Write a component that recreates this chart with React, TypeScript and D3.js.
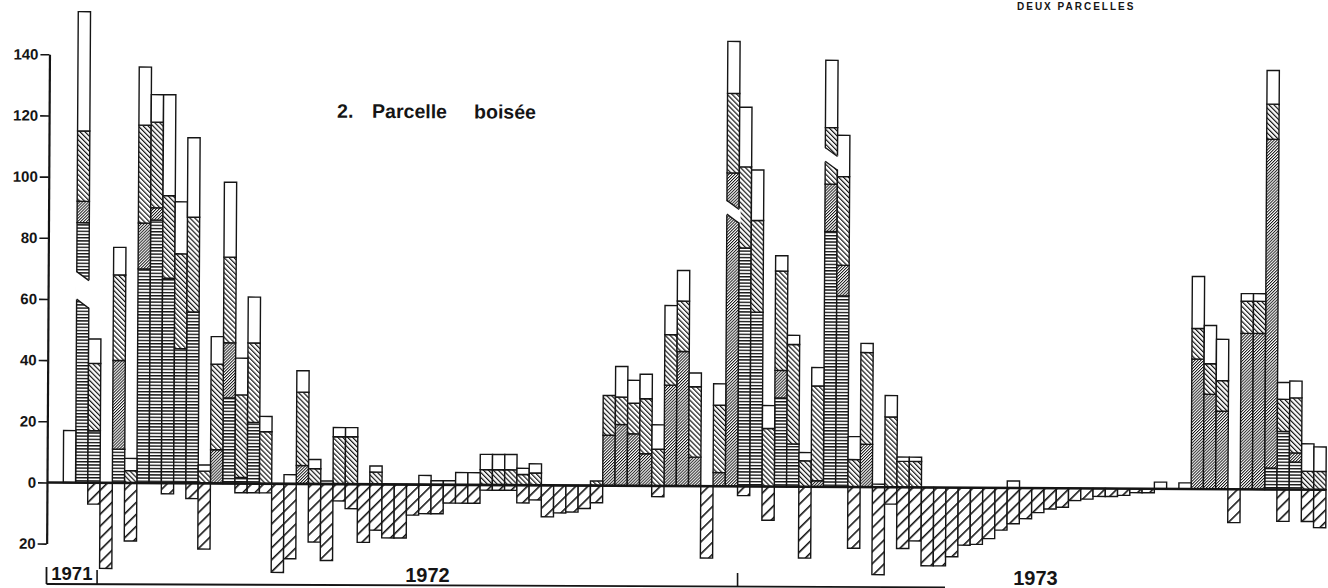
import { useRef, useEffect } from 'react';
import * as d3 from 'd3';

const WIDTH = 1328;
const HEIGHT = 588;
const INK = '#151515';
const FONT = "'Liberation Sans', Arial, Helvetica, sans-serif";
const SKEW = 0.33; // the scan is slightly rotated

// weekly amounts (mm), stacked bottom -> top: horizontal hatch, fine "/" hatch, "\" hatch, blank
const horizSeries = [
  0, 85, 17, 0, 11, 0, 70, 86, 67, 44,
  56, 0, 0, 28, 2, 20, 0, 0, 0, 0,
  0, 0, 0, 0, 0, 0, 0, 0, 0, 0,
  0, 0, 0, 0, 0, 0, 0, 0, 0, 0,
  0, 0, 0, 0, 0, 0, 0, 0, 0, 0,
  0, 0, 0, 0, 0, 78, 57, 0, 29, 14,
  0, 0, 83.5, 62.5, 0, 0, 0, 0, 0, 0,
  0, 0, 0, 0, 0, 0, 0, 0, 0, 0,
  0, 0, 0, 0, 0, 0, 0, 0, 0, 0,
  0, 0, 0, 0, 0, 0, 0, 0, 7, 19,
  9, 0, 0,
];

const fineSeries = [
  0, 7, 0, 0, 29, 0, 15, 4, 0, 0,
  0, 0, 11, 18, 0, 0, 0, 0, 0, 6,
  0, 0, 0, 0, 0, 0, 0, 0, 0, 0,
  0, 0, 0, 0, 0, 0, 0, 0, 0, 0,
  0, 0, 0, 0, 16.5, 20, 17, 10.5, 0, 33,
  44, 9.5, 0, 4.5, 102.5, 0, 0, 0, 9, 0,
  0, 2, 15.5, 10, 0, 14, 0, 0, 0, 0,
  0, 0, 0, 0, 0, 0, 0, 0, 0, 0,
  0, 0, 0, 0, 0, 0, 0, 0, 0, 0,
  0, 0, 42.5, 31, 25.5, 0, 51, 51, 107.5, 0,
  3, 0, 0,
];

const backSeries = [
  0, 23, 22, 0, 28, 4, 32, 28, 27, 31,
  31, 4, 28, 28, 27, 26, 17, 0, 0, 24,
  5, 0, 15.5, 15.5, 0, 4, 0, 0, 0, 0,
  0, 0, 0, 0, 5, 5, 5, 3.5, 4, 0,
  0, 0, 0, 1.5, 13, 9, 10, 18, 12, 16.5,
  16.5, 23, 0, 22, 26, 26.5, 30, 19, 32.5, 32.5,
  8.5, 31, 18.5, 29, 9, 30, 0, 23, 8.5, 8.5,
  0, 0, 0, 0, 0, 0, 0, 0, 0, 0,
  0, 0, 0, 0, 0, 0, 0, 0, 0, 0,
  0, 0, 10, 10, 10, 0, 10.5, 10.5, 11.5, 10.5,
  18, 6, 6,
];

const whiteSeries = [
  17, 39, 8, 0, 9, 4, 19, 9, 33, 17,
  26, 2, 9, 24.5, 12, 15, 5, 0, 3, 7,
  3, 1, 3, 3, 0, 2, 0, 0, 0, 3,
  1.3, 1.3, 4, 4, 5, 5, 5, 2, 3, 0,
  0, 0, 0, 0, 0, 10, 7.5, 8, 8, 9.5,
  10, 4.5, 0, 7, 17, 19.5, 16.5, 7.5, 5, 3,
  2.7, 6, 22, 13.5, 7.5, 3, 1, 7, 1.4, 1.4,
  0, 0, 0, 0, 0, 0, 0, 2.3, 0, 0,
  0, 0, 0, 0, 0, 0, 0, 0, 0, 2.2,
  0, 2, 17, 12.5, 13.5, 0, 2.5, 2.5, 11, 5.5,
  5.5, 9, 8,
];

// drawn below the zero line
const negSeries = [
  0, 0, 7, 28, 0, 19, 0, 0, 3.5, 0,
  5, 21.5, 0, 0, 3, 3, 3, 29, 24.5, 0,
  19, 25, 5.5, 8, 19, 15, 17.5, 17.5, 10, 9.5,
  9.5, 6, 6, 6, 1.7, 1.7, 1.7, 5.8, 4.8, 10.3,
  9, 8.7, 7.5, 5.6, 0, 0, 0, 0, 3.5, 0,
  0, 0, 23.5, 0, 0, 3, 0, 11, 0, 0,
  23.3, 0, 0, 0, 20, 0, 28.6, 5.5, 20, 17.5,
  25.6, 25.6, 22.6, 18.8, 18.5, 16.6, 13.8, 11.7, 10, 8,
  6.8, 6.2, 4, 3.5, 2.6, 2.6, 2.2, 1.3, 1.3, 0,
  0, 0, 0, 0, 0, 10.9, 0, 0, 0, 10.4,
  0, 10.4, 12.4,
];

// bars drawn with a slanted cut
const breakBars = [1, 54, 62];
const breakLow = [60, 89, 106.5];
const breakHigh = [69, 93.5, 111];

const yTicks = [-20, 0, 20, 40, 60, 80, 100, 120, 140];

const yearLabels = ['1971', '1972', '1973'];
const yearLabelWeek = [0.7, 29.7, 79.3];
const yearTickWeek = [3, 55];

export default function App() {
  const svgRef = useRef<SVGSVGElement>(null);

  useEffect(() => {
    if (!svgRef.current) return;
    const svg = d3.select(svgRef.current);
    svg.selectAll('*').remove();

    const n = whiteSeries.length;
    const x = d3.scaleBand<number>().domain(d3.range(n)).range([63.3, 1326]);
    const xw = d3.scaleLinear().domain([0, n]).range([63.3, 1326]);
    const y = d3.scaleLinear().domain([-20, 140]).range([543.6, 54.3]);
    const bw = x.bandwidth();

    // hatch patterns
    const defs = svg.append('defs');
    const hatch = (id: string, size: number, line: number, angle: number) => {
      const p = defs
        .append('pattern')
        .attr('id', id)
        .attr('patternUnits', 'userSpaceOnUse')
        .attr('width', size)
        .attr('height', 8)
        .attr('patternTransform', `rotate(${angle})`);
      p.append('rect').attr('width', size).attr('height', 8).attr('fill', '#fff');
      p.append('rect').attr('width', line).attr('height', 8).attr('fill', INK);
    };
    hatch('p-horiz', 3.2, 1.4, 90);
    hatch('p-fine', 2.1, 0.95, 45);
    hatch('p-back', 3.5, 1.2, -45);
    hatch('p-neg', 8.5, 1.6, 45);

    const fills: Record<string, string> = {
      horiz: 'url(#p-horiz)',
      fine: 'url(#p-fine)',
      back: 'url(#p-back)',
      white: '#fff',
    };

    const rows = d3.range(n).map((i) => ({
      horiz: horizSeries[i],
      fine: fineSeries[i],
      back: backSeries[i],
      white: whiteSeries[i],
    }));
    const stacked = d3.stack<any>().keys(['horiz', 'fine', 'back', 'white'])(rows);

    const g = svg.append('g').attr('transform', `rotate(${SKEW}, 47, ${y(0)})`);

    stacked.forEach((layer) => {
      const segs = layer
        .map((d, i) => ({ i, y0: d[0], y1: d[1] }))
        .filter((d) => d.y1 - d.y0 > 0);
      g.append('g')
        .selectAll('rect')
        .data(segs)
        .join('rect')
        .attr('x', (d) => x(d.i)!)
        .attr('y', (d) => y(d.y1))
        .attr('width', bw)
        .attr('height', (d) => y(d.y0) - y(d.y1))
        .attr('fill', fills[layer.key])
        .attr('stroke', INK)
        .attr('stroke-width', 1.4);
    });

    // negative bars
    g.append('g')
      .selectAll('rect')
      .data(negSeries.map((v, i) => ({ i, v })).filter((d) => d.v > 0))
      .join('rect')
      .attr('x', (d) => x(d.i)!)
      .attr('y', y(0))
      .attr('width', bw)
      .attr('height', (d) => y(-d.v) - y(0))
      .attr('fill', 'url(#p-neg)')
      .attr('stroke', INK)
      .attr('stroke-width', 1.4);

    // slanted cuts
    breakBars.forEach((bar, k) => {
      const xa = x(bar)!;
      const xb = xa + bw;
      const drop = 9;
      const yHi = y(breakHigh[k]);
      const yLo = y(breakLow[k]);
      g.append('polygon')
        .attr('points', [
          [xa - 1.5, yHi],
          [xb + 1.5, yHi + drop],
          [xb + 1.5, yLo + drop],
          [xa - 1.5, yLo],
        ].join(' '))
        .attr('fill', '#fff');
      [yHi, yLo].forEach((yy) => {
        g.append('line')
          .attr('x1', xa)
          .attr('y1', yy)
          .attr('x2', xb)
          .attr('y2', yy + drop)
          .attr('stroke', INK)
          .attr('stroke-width', 1.4);
      });
    });

    // zero line
    g.append('line')
      .attr('x1', 47)
      .attr('x2', 1326)
      .attr('y1', y(0))
      .attr('y2', y(0))
      .attr('stroke', INK)
      .attr('stroke-width', 2.6);

    // y axis
    const yAxis = g
      .append('g')
      .attr('transform', 'translate(47,0)')
      .call(
        d3
          .axisLeft(y)
          .tickValues(yTicks)
          .tickSize(9)
          .tickSizeOuter(0)
          .tickPadding(2)
          .tickFormat((d) => String(Math.abs(d as number)))
      );
    yAxis.select('.domain').attr('stroke', INK).attr('stroke-width', 2.2);
    yAxis.selectAll('line').attr('stroke', INK).attr('stroke-width', 1.6);
    yAxis
      .selectAll('text')
      .attr('fill', INK)
      .style('font-family', FONT)
      .style('font-size', '15px')
      .style('font-weight', 'bold');

    // panel title
    const title = g
      .append('text')
      .attr('y', 116)
      .attr('fill', INK)
      .style('font-family', FONT)
      .style('font-size', '19.5px')
      .style('font-weight', 'bold');
    title.append('tspan').attr('x', 335).text('2.');
    title.append('tspan').attr('x', 370).text('Parcelle');
    title.append('tspan').attr('x', 472).text('boisée');

    // year strip along the bottom (not rotated with the plot)
    const yr = svg.append('g');
    yr.append('line')
      .attr('x1', 46.5)
      .attr('y1', 584)
      .attr('x2', 945)
      .attr('y2', 587.3)
      .attr('stroke', INK)
      .attr('stroke-width', 1.8);
    yr.append('line')
      .attr('x1', 46.5)
      .attr('x2', 46.5)
      .attr('y1', 567)
      .attr('y2', 584)
      .attr('stroke', INK)
      .attr('stroke-width', 1.8);
    yearTickWeek.forEach((w, k) => {
      const xx = xw(w) - (k === 0 ? 3 : 0);
      yr.append('line')
        .attr('x1', xx)
        .attr('x2', xx)
        .attr('y1', k === 0 ? 570 : 573)
        .attr('y2', 584 + (xx - 46.5) * 0.0037)
        .attr('stroke', INK)
        .attr('stroke-width', 1.6);
    });
    yr.selectAll('text.year')
      .data(yearLabels)
      .join('text')
      .attr('class', 'year')
      .attr('x', (_, i) => xw(yearLabelWeek[i]))
      .attr('y', (_, i) => [580, 582, 585][i])
      .attr('text-anchor', 'middle')
      .attr('fill', INK)
      .style('font-family', FONT)
      .style('font-size', (_, i) => (i === 0 ? '18.5px' : '20px'))
      .style('font-weight', 'bold')
      .text((d) => d);

    // figure caption fragment at the top edge of the scan
    svg
      .append('text')
      .attr('x', 1017)
      .attr('y', 10)
      .attr('fill', INK)
      .style('font-family', FONT)
      .style('font-size', '10px')
      .style('font-weight', 'bold')
      .style('letter-spacing', '2px')
      .text('DEUX PARCELLES');
  }, []);

  return (
    <div style={{ position: 'absolute', left: 0, top: 0 }}>
      <svg
        ref={svgRef}
        width={WIDTH}
        height={HEIGHT}
        style={{ display: 'block', background: '#fff' }}
      />
    </div>
  );
}
